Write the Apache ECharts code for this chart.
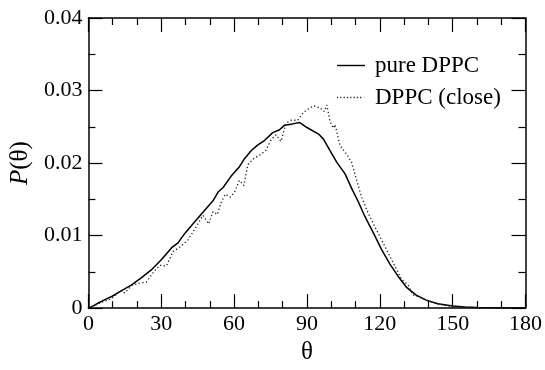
<!DOCTYPE html>
<html><head><meta charset="utf-8">
<script src="https://cdn.jsdelivr.net/npm/echarts@6/dist/echarts.min.js"></script>
<style>html,body{margin:0;padding:0;background:#fff}#c{width:545px;height:370px}</style>
</head><body><div id="c"></div>
<script>
var thetaPure = [0,2,4.1,7,9.6,13.7,17.8,21.9,26,30.1,34.2,36.9,39.7,43.8,47.9,51.3,53.4,55.4,58.8,62.2,64.3,67,69.8,72.5,75.9,78.7,80.7,84.1,86.9,90,94.8,96.8,99.5,102.3,105.7,108.4,111.1,113.9,117.3,120.7,124.1,127.5,130.9,135,139.1,143.9,150,155,160,170,180];
var pPure = [0,0.0003,0.0007,0.0012,0.0016,0.0024,0.0032,0.0042,0.0053,0.0067,0.0083,0.009,0.0103,0.0119,0.0135,0.0148,0.016,0.0166,0.0182,0.0195,0.0206,0.0217,0.0225,0.0231,0.0242,0.0246,0.0252,0.0254,0.0256,0.0249,0.024,0.0233,0.0217,0.0201,0.0185,0.0165,0.0147,0.0126,0.0104,0.0081,0.0061,0.0044,0.0029,0.0018,0.0011,0.0006,0.0003,0.00015,0.00007,0.00002,0];
var thetaClose = [0,5.5,9.6,13,15,17.8,20.5,23.9,26.7,29.4,32.1,34.9,37.6,41,43.8,47.2,49.5,51.3,53.1,54.7,56.4,58.5,60.2,62.2,64,65.7,68.4,71.1,73.2,75.2,77.3,79.3,81.4,83.4,86.2,88.6,92.7,95.5,97.1,98.2,99.5,100.9,101.6,103.6,106.4,108.4,110.5,112.5,115.2,118.6,122.7,126.2,128.9,131.6,133.7,136.4,139.8,144.6,150,160,170,180];
var pClose = [0,0.0008,0.0013,0.0024,0.0021,0.0031,0.0034,0.0036,0.0049,0.0059,0.0058,0.0078,0.0084,0.0094,0.0109,0.0128,0.0116,0.0133,0.0129,0.0146,0.0157,0.0153,0.016,0.0176,0.0169,0.0198,0.0207,0.0212,0.0218,0.0232,0.0239,0.023,0.0255,0.0259,0.0259,0.027,0.0279,0.0276,0.0271,0.028,0.0257,0.0248,0.0253,0.0224,0.0212,0.0201,0.0176,0.0153,0.0131,0.0108,0.0081,0.0058,0.004,0.0032,0.0018,0.0015,0.001,0.0005,0.0002,0.00005,0,0];
var seriesNames = ['pure DPPC', 'DPPC (close)'];
var xTicks = [0,30,60,90,120,150,180];
var yTicks = [0,0.01,0.02,0.03,0.04];

function pairs(xs, ys){ return xs.map(function(x,i){ return [x, ys[i]]; }); }
var font = 'Liberation Serif';
var solidIcon = 'path://M0,0H28V1.4H0Z';
var dotIcon = 'path://';
for (var k = 0; k <= 26; k += 3.3) { dotIcon += 'M' + k.toFixed(1) + ',0h1.2v1.4h-1.2Z'; }
dotIcon += 'M27.8,0h0.2v1.4h-0.2Z';
var axisLine = {onZero:false, lineStyle:{color:'#000', width:1.5}};
function xAx(pos, show){
  return {type:'value', position:pos, min:0, max:180, interval:30,
    axisLine:axisLine,
    axisTick:{inside:true, length:14, lineStyle:{color:'#000', width:1.2}},
    minorTick:{show:true, splitNumber:3, length:7, lineStyle:{color:'#000', width:1.2}},
    splitLine:{show:false},
    axisLabel:{show:show, color:'#000', fontFamily:font, fontSize:22, margin:5},
    name: show ? 'θ' : '', nameLocation:'middle', nameGap:30,
    nameTextStyle:{color:'#000', fontFamily:font, fontSize:25}
  };
}
function yAx(pos, show){
  return {type:'value', position:pos, min:0, max:0.04, interval:0.01,
    axisLine:axisLine,
    axisTick:{inside:true, length:14, lineStyle:{color:'#000', width:1.2}},
    minorTick:{show:true, splitNumber:2, length:7, lineStyle:{color:'#000', width:1.2}},
    splitLine:{show:false},
    axisLabel:{show:show, color:'#000', fontFamily:font, fontSize:22, margin:6,
      formatter:function(v){ return v===0 ? '0' : v.toFixed(2); }},
    name: show ? '{i|P}(θ)' : '', nameLocation:'middle', nameGap:50, nameRotate:90,
    nameTextStyle:{color:'#000', fontFamily:font, fontSize:25,
      rich:{i:{fontStyle:'italic', fontFamily:font, fontSize:25, color:'#000'}}}
  };
}
var chart = echarts.init(document.getElementById('c'), null, {renderer:'canvas'});
chart.setOption({
  animation:false,
  backgroundColor:'#fff',
  grid:{left:87, right:18, top:18, bottom:57, containLabel:false},
  xAxis:[xAx('bottom', true), xAx('top', false)],
  yAxis:[yAx('left', true), yAx('right', false)],
  legend:{orient:'vertical', left:332, top:49, itemWidth:28, itemHeight:14, itemGap:9,
    symbolKeepAspect:true,
    textStyle:{color:'#000', fontFamily:font, fontSize:23, lineHeight:23, padding:[0,0,0,5]},
    data:[{name:seriesNames[0], icon:solidIcon}, {name:seriesNames[1], icon:dotIcon}]},
  series:[
    {name:seriesNames[0], type:'line', data:pairs(thetaPure,pPure), symbol:'none', showSymbol:false,
      lineStyle:{color:'#000', width:1.5, type:'solid'}, itemStyle:{color:'#000'}},
    {name:seriesNames[1], type:'line', data:pairs(thetaClose,pClose), symbol:'none', showSymbol:false,
      lineStyle:{color:'#222', width:1.3, type:[1.3,2.4]}, itemStyle:{color:'#222'}}
  ]
});
</script></body></html>
